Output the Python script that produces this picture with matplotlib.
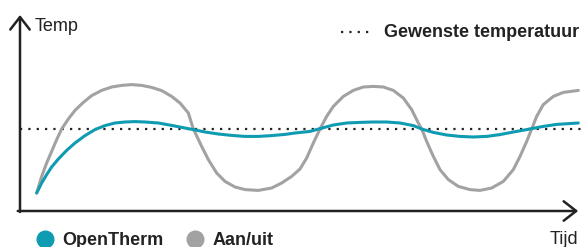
import matplotlib
matplotlib.use('Agg')
import matplotlib.pyplot as plt
from matplotlib.lines import Line2D

plt.rcParams['font.family'] = ['Liberation Sans', 'DejaVu Sans']

# time (arbitrary units) and temperature (arbitrary units)
setpoint = 20.0

aanuit_t = [2.98, 3.87, 4.76, 5.65, 6.55, 7.44, 8.63, 9.82, 11.31, 12.8, 14.58, 16.37,
            18.15, 19.94, 21.73, 23.51, 25.3, 27.08, 28.57, 30.06, 30.95, 31.25, 32.44,
            33.63, 35.12, 36.61, 38.39, 40.18, 42.56, 44.94, 46.73, 48.51, 50.0, 51.19,
            52.38, 53.57, 54.76, 55.95, 57.74, 59.52, 61.31, 63.1, 64.88, 66.67, 68.45,
            69.94, 71.13, 71.73, 72.62, 73.81, 75.0, 76.49, 78.27, 80.36, 82.14, 84.23,
            86.31, 88.1, 89.29, 90.48, 91.37, 92.26, 93.45, 95.24, 97.02, 99.7]
aanuit_temp = [16.80, 17.63, 18.30, 18.88, 19.47, 20.00, 20.50, 20.93, 21.33, 21.67, 21.93,
               22.10, 22.18, 22.22, 22.18, 22.08, 21.92, 21.63, 21.30, 20.80, 20.00, 19.83,
               19.13, 18.47, 17.80, 17.38, 17.10, 16.97, 16.93, 17.05, 17.30, 17.63, 18.00,
               18.55, 19.30, 20.00, 20.63, 21.13, 21.63, 21.93, 22.10, 22.13, 22.10, 21.93,
               21.55, 20.97, 20.30, 20.00, 19.38, 18.63, 17.97, 17.47, 17.13, 16.97, 16.93,
               17.05, 17.38, 17.97, 18.63, 19.38, 20.00, 20.63, 21.22, 21.63, 21.83, 21.93]

opentherm_t = [2.98, 3.87, 4.76, 5.65, 6.85, 8.33, 9.82, 11.61, 13.39, 15.18, 16.96, 18.75,
               20.54, 22.32, 24.7, 27.08, 29.46, 30.95, 33.04, 35.42, 37.8, 40.18, 42.56,
               44.94, 47.32, 49.11, 51.79, 53.57, 55.95, 58.33, 60.71, 63.1, 65.48, 67.86,
               70.24, 71.73, 73.81, 76.19, 78.57, 80.95, 83.33, 85.71, 88.1, 90.48, 93.45,
               95.83, 99.7]
opentherm_temp = [16.80, 17.30, 17.72, 18.10, 18.50, 18.93, 19.30, 19.67, 19.97, 20.17, 20.30,
                  20.35, 20.37, 20.35, 20.30, 20.18, 20.05, 19.97, 19.85, 19.75, 19.68, 19.63,
                  19.63, 19.67, 19.73, 19.80, 19.88, 20.02, 20.20, 20.30, 20.33, 20.35, 20.35,
                  20.30, 20.17, 20.00, 19.83, 19.70, 19.63, 19.60, 19.63, 19.72, 19.85, 19.97,
                  20.13, 20.23, 20.30]

teal = '#0f9bb1'
grey = '#a2a2a2'
ink = '#222222'
W, H = 581, 247

fig = plt.figure(figsize=(W / 100, H / 100), dpi=100)
ax = fig.add_axes([20 / W, 36 / H, 561 / W, 196 / H])
ax.set_xlim(0, 100.18)
ax.set_ylim(15.9, 25.7)
ax.axis('off')

ax.axhline(setpoint, color=ink, lw=1.6, ls=(0, (1, 2.75)))
ax.plot(aanuit_t, aanuit_temp, color=grey, lw=2.2, solid_joinstyle='round', solid_capstyle='round')
ax.plot(opentherm_t, opentherm_temp, color=teal, lw=2.2, solid_joinstyle='round', solid_capstyle='round')

arrow = dict(arrowstyle='->,head_length=0.45,head_width=0.35', lw=1.8, color=ink,
             shrinkA=0, shrinkB=0, mutation_scale=20)
ax.annotate('', xy=(0, 1), xytext=(0, -0.005), xycoords='axes fraction', arrowprops=arrow)
ax.annotate('', xy=(0.995, 0), xytext=(-0.004, 0), xycoords='axes fraction', arrowprops=arrow)


def fx(px):
    return px / W


def fy(py):
    return 1 - py / H


fig.text(fx(35), fy(31), 'Temp', fontsize=13, color=ink, va='baseline')
fig.text(fx(578), fy(244), 'Tijd', fontsize=13, color=ink, va='baseline', ha='right')

fig.add_artist(Line2D([fx(341), fx(370)], [fy(32.5), fy(32.5)], transform=fig.transFigure,
                      color=ink, lw=1.6, ls=(0, (1, 2.75))))
fig.text(fx(579), fy(37), 'Gewenste temperatuur', fontsize=13, fontweight='bold',
         color=ink, va='baseline', ha='right')

fig.add_artist(Line2D([fx(45)], [fy(239)], transform=fig.transFigure, marker='o',
                      markersize=12, color=teal, ls='none'))
fig.text(fx(62), fy(245), 'OpenTherm', fontsize=13, fontweight='bold', color=ink, va='baseline')
fig.add_artist(Line2D([fx(195)], [fy(239)], transform=fig.transFigure, marker='o',
                      markersize=12, color=grey, ls='none'))
fig.text(fx(213), fy(245), 'Aan/uit', fontsize=13, fontweight='bold', color=ink, va='baseline')

fig.savefig('out.png', dpi=100)
